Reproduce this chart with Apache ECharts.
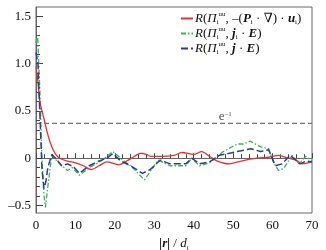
<!DOCTYPE html>
<html>
<head>
<meta charset="utf-8">
<script src="https://cdn.jsdelivr.net/npm/echarts@6/dist/echarts.min.js"></script>
<style>
  html, body { margin: 0; padding: 0; background: #fff; }
  #chart { width: 326px; height: 250px; }
</style>
</head>
<body>
<div id="chart"></div>
<script>
// R(Π, -(P·∇)·u)  red solid
var redX = [0, 0.5, 1, 2, 3, 4, 5, 6, 8, 10, 12, 14, 16, 18, 20, 21, 23, 25, 26.5, 28, 29, 32, 35, 37, 40, 42, 44, 46, 49, 52, 56, 59, 61.5, 64, 66, 67.5, 70];
var redY = [0.97, 0.8, 0.6, 0.42, 0.25, 0.12, 0.04, 0.0, -0.03, -0.05, -0.08, -0.12, -0.08, -0.04, -0.06, -0.07, -0.03, 0.02, 0.05, 0.04, 0.02, 0.02, 0.03, 0.06, 0.04, 0.07, 0.02, -0.03, -0.06, -0.03, 0.0, 0.01, 0.03, 0.0, -0.02, -0.06, -0.04];

// R(Π, j_i·E)  green dash-dot
var greenX = [0, 0.4, 1, 1.5, 2, 2.4, 3, 4, 6, 8, 9.2, 11, 13.5, 16.5, 19.5, 22, 24, 27.5, 29, 31, 34, 38, 39.5, 41.5, 44, 47.5, 51, 52.6, 54.3, 57, 59, 60.2, 61.5, 62.8, 65, 66.7, 68.4, 70];
var greenY = [1.22, 1.3, 0.7, 0.0, -0.38, -0.52, -0.3, 0.03, -0.06, -0.13, -0.1, -0.18, -0.1, -0.03, 0.07, -0.02, -0.08, -0.23, -0.14, -0.02, -0.08, -0.08, 0.0, -0.08, -0.05, 0.07, 0.15, 0.15, 0.18, 0.12, 0.1, -0.04, -0.13, -0.11, 0.03, -0.06, 0.02, -0.03];

// R(Π, j·E)  blue dashed
var blueX = [0, 0.5, 1, 1.5, 2, 2.5, 3, 4, 5, 6.5, 8, 9.5, 11, 13.5, 16, 18, 19.5, 21.5, 24, 27, 29, 31.5, 34, 38, 39.5, 41.5, 44, 46.5, 51, 54.5, 57, 59, 60.7, 62.4, 64.5, 67, 68.5, 70];
var blueY = [1.12, 1.0, 0.45, -0.1, -0.32, -0.25, -0.1, 0.04, 0.0, -0.08, -0.06, -0.09, -0.16, -0.08, -0.03, 0.0, 0.05, -0.03, -0.08, -0.16, -0.12, -0.02, -0.06, -0.06, 0.0, -0.06, -0.04, 0.03, 0.07, 0.1, 0.07, 0.09, -0.08, -0.06, 0.03, -0.06, -0.03, -0.04];

var eInvY = 0.368;
var eInvLabelX = 48;

var yMajorTicks = [-0.5, 0, 0.5, 1.0, 1.5];
var yMinorTicks = [-0.5, -0.4, -0.3, -0.2, -0.1, 0, 0.1, 0.2, 0.3, 0.4, 0.5, 0.6, 0.7, 0.8, 0.9, 1.0, 1.1, 1.2, 1.3, 1.4, 1.5];

var serif = '"Liberation Serif", "DejaVu Serif", serif';

function pairs(xs, ys) {
  var out = [];
  for (var i = 0; i < xs.length; i++) out.push([xs[i], ys[i]]);
  return out;
}

var legendText = {
  red: '{it|R}{n|(}{it|Π}{sub|i}{sup|uu}{n|, –(}{bi|P}{sub|i}{n| · ∇) · }{bi|u}{sub|i}{n|)}',
  green: '{it|R}{n|(}{it|Π}{sub|i}{sup|uu}{n|, }{bi|j}{sub|i}{n| · }{bi|E}{n|)}',
  blue: '{it|R}{n|(}{it|Π}{sub|i}{sup|uu}{n|, }{bi|j}{n| · }{bi|E}{n|)}'
};

var chart = echarts.init(document.getElementById('chart'));
var option = {
  animation: false,
  grid: {
    left: 36, right: 14, top: 7, bottom: 37,
    outerBoundsMode: 'none',
    containLabel: false,
    show: true, borderColor: '#666', borderWidth: 1
  },
  legend: {
    orient: 'vertical',
    left: 175,
    top: 6,
    itemWidth: 12,
    itemHeight: 8,
    itemGap: 0,
    itemStyle: { opacity: 0 },
    data: ['red', 'green', 'blue'],
    formatter: function (name) { return legendText[name]; },
    textStyle: {
      fontFamily: serif,
      fontSize: 13,
      color: '#111',
      padding: [0, 0, 0, -3],
      rich: {
        n: { fontFamily: serif, fontSize: 13, color: '#111', lineHeight: 15 },
        it: { fontFamily: serif, fontSize: 13, fontStyle: 'italic', color: '#111', lineHeight: 15 },
        bi: { fontFamily: serif, fontSize: 13, fontStyle: 'italic', fontWeight: 'bold', color: '#111', lineHeight: 15 },
        sub: { fontFamily: serif, fontSize: 7, color: '#111', verticalAlign: 'bottom', lineHeight: 15 },
        sup: { fontFamily: serif, fontSize: 7, color: '#111', verticalAlign: 'top', lineHeight: 15 }
      }
    }
  },
  xAxis: {
    type: 'value',
    min: 0, max: 70, interval: 10,
    name: '{b||r|}{n| / }{it|d}{sub|i}',
    nameLocation: 'middle',
    nameGap: 22,
    nameTextStyle: {
      rich: {
        b: { fontFamily: serif, fontSize: 13, fontStyle: 'italic', fontWeight: 'bold', color: '#111' },
        n: { fontFamily: serif, fontSize: 13, color: '#111' },
        it: { fontFamily: serif, fontSize: 13, fontStyle: 'italic', color: '#111' },
        sub: { fontFamily: serif, fontSize: 7, color: '#111', verticalAlign: 'bottom', lineHeight: 16 }
      }
    },
    axisLine: { show: true, lineStyle: { color: '#666' } },
    axisTick: { show: true, inside: true, length: 5, lineStyle: { color: '#444' } },
    minorTick: { show: true, splitNumber: 5, length: 4, lineStyle: { color: '#444' } },
    axisLabel: { fontFamily: serif, fontSize: 13, color: '#111', margin: 6 },
    splitLine: { show: false }
  },
  yAxis: [{
    type: 'value',
    min: -0.58, max: 1.6,
    axisLine: { show: true, lineStyle: { color: '#666' } },
    axisTick: { show: true, inside: true, length: 7, customValues: yMajorTicks, lineStyle: { color: '#444' } },
    axisLabel: {
      fontFamily: serif, fontSize: 13, color: '#111', margin: 5,
      customValues: yMajorTicks,
      formatter: function (v) { return v === 0 ? '0' : v.toFixed(1).replace('-', '–'); }
    },
    splitLine: { show: false }
  }, {
    type: 'value',
    min: -0.58, max: 1.6,
    position: 'left',
    axisLine: { show: false },
    axisTick: { show: true, inside: true, length: 4, customValues: yMinorTicks, lineStyle: { color: '#444' } },
    axisLabel: { show: false },
    splitLine: { show: false }
  }],
  series: [{
    name: 'eInv',
    type: 'line',
    data: [[0, eInvY], [70, eInvY]],
    showSymbol: false,
    symbol: 'none',
    lineStyle: { color: '#777', width: 1.2, type: [5, 3] },
    z: 1
  }, {
    name: 'eInvLabel',
    type: 'scatter',
    data: [[eInvLabelX, eInvY]],
    symbolSize: 0,
    label: {
      show: true, position: 'top', distance: 0,
      formatter: '{n|e}{sup|–1}',
      rich: {
        n: { fontFamily: serif, fontSize: 13, color: '#222' },
        sup: { fontFamily: serif, fontSize: 7, color: '#222', verticalAlign: 'top', lineHeight: 12 }
      }
    }
  }, {
    name: 'red',
    type: 'line',
    data: pairs(redX, redY),
    smooth: 0.3,
    showSymbol: false,
    symbol: 'none',
    itemStyle: { color: '#e4302e' },
    lineStyle: { color: '#e4302e', width: 1.3 },
    z: 3
  }, {
    name: 'green',
    type: 'line',
    data: pairs(greenX, greenY),
    showSymbol: false,
    symbol: 'none',
    itemStyle: { color: '#39b54a' },
    lineStyle: { color: '#39b54a', width: 1.3, type: [5, 2, 1.5, 2] },
    z: 2
  }, {
    name: 'blue',
    type: 'line',
    data: pairs(blueX, blueY),
    showSymbol: false,
    symbol: 'none',
    itemStyle: { color: '#2b3b9c' },
    lineStyle: { color: '#2b3b9c', width: 1.5, type: [7, 3] },
    z: 4
  }]
};
chart.setOption(option);
</script>
</body>
</html>
